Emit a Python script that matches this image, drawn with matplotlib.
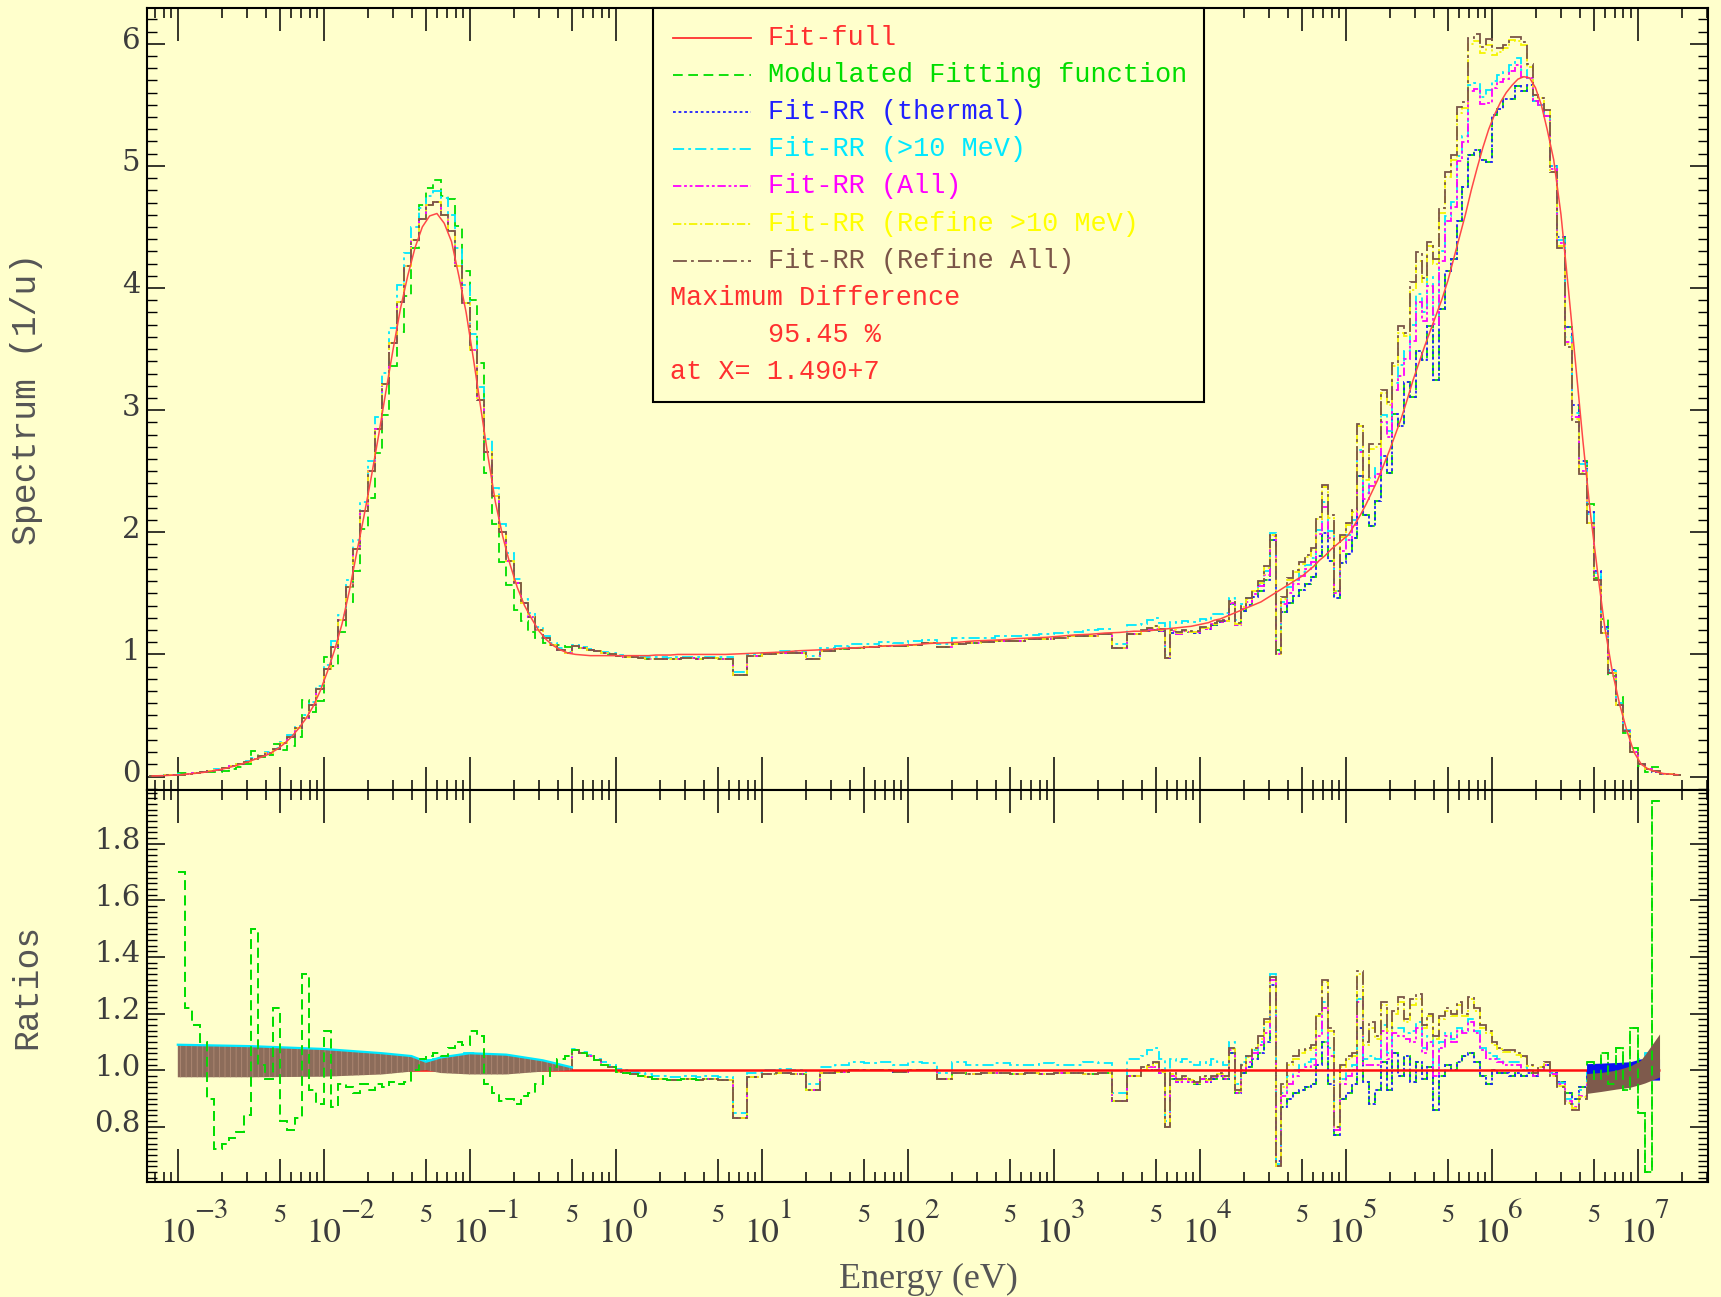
import numpy as np
import matplotlib
matplotlib.use("Agg")
import matplotlib.pyplot as plt
from matplotlib.ticker import FixedLocator, MultipleLocator, FormatStrFormatter, NullFormatter
from matplotlib.transforms import blended_transform_factory, ScaledTranslation
from matplotlib.patches import Rectangle
from matplotlib.lines import Line2D

plt.rcParams['lines.scale_dashes'] = False
plt.rcParams['mathtext.fontset'] = 'stix'
plt.rcParams['hatch.linewidth'] = 0.6

BG = '#FFFFCC'

# ---------------- energy group structure: (first log10 edge, last log10 edge, width)
group_regions = [(-3.2, 0.6, 0.05), (0.6, 3.6, 0.1), (3.6, 6.4, 0.04), (6.4, 7.3, 0.05)]

# ---------------- Fit-full spectrum (1/u) per group
fit_A = [0.005, 0.007, 0.009, 0.012, 0.016, 0.021, 0.027, 0.034, 0.043, 0.054,
         0.067, 0.082, 0.099, 0.118, 0.14, 0.16, 0.185, 0.22, 0.265, 0.32,
         0.39, 0.47, 0.57, 0.70, 0.86, 1.04, 1.25, 1.52, 1.83, 2.13,
         2.45, 2.79, 3.15, 3.50, 3.83, 4.10, 4.33, 4.50, 4.59, 4.61,
         4.53, 4.38, 4.10, 3.80, 3.42, 3.02, 2.62, 2.25, 1.97, 1.74,
         1.55, 1.40, 1.29, 1.19, 1.12, 1.07, 1.035, 1.01, 1.0, 0.995,
         0.99, 0.99, 0.99, 0.99, 0.99, 0.99, 0.99, 0.99, 0.99, 0.995,
         0.995, 0.995, 1.0, 1.0, 1.0, 1.0]
fit_B = [1.0, 1.0, 1.005, 1.01, 1.015, 1.02, 1.03, 1.035, 1.04, 1.05,
         1.055, 1.06, 1.07, 1.075, 1.08, 1.09, 1.095, 1.10, 1.11, 1.115,
         1.12, 1.13, 1.135, 1.14, 1.15, 1.16, 1.165, 1.175, 1.18, 1.19]
fit_C = [1.19, 1.195, 1.20, 1.205, 1.21, 1.215, 1.22, 1.225, 1.23, 1.24,
         1.25, 1.26, 1.28, 1.29, 1.31, 1.33, 1.35, 1.37, 1.39, 1.41,
         1.43, 1.46, 1.49, 1.52, 1.55, 1.58, 1.61, 1.64, 1.68, 1.72,
         1.77, 1.81, 1.86, 1.90, 1.94, 1.98, 2.06, 2.14, 2.23, 2.33,
         2.43, 2.55, 2.67, 2.80, 2.93, 3.08, 3.24, 3.38, 3.52, 3.65,
         3.78, 3.91, 4.06, 4.24, 4.42, 4.60, 4.80, 4.98, 5.15, 5.30,
         5.42, 5.52, 5.60, 5.66, 5.71, 5.73, 5.72, 5.64, 5.50, 5.30]
fit_D = [5.05, 4.60, 4.00, 3.38, 2.75, 2.17, 1.68, 1.22, 0.87, 0.60,
         0.38, 0.20, 0.10, 0.06, 0.04, 0.025, 0.02, 0.015]

# ---------------- ratios to Fit-full, thermal/epithermal groups
rr_A = [1.0, 1.0, 1.0, 1.0,
        1.03, 1.035, 1.03, 1.03, 1.035, 1.03, 1.03, 1.035, 1.03, 1.03,
        1.03, 1.03, 1.03, 1.025, 1.03, 1.025, 1.025, 1.025, 1.025, 1.025,
        1.025, 1.02, 1.025, 1.02, 1.02, 1.02, 1.02, 1.02, 1.02, 1.015,
        1.015, 1.02, 1.015, 1.015, 1.02, 1.02, 1.015, 1.02, 1.02, 1.02,
        1.02, 1.02, 1.015, 1.02, 1.015, 1.015, 1.02, 1.015, 1.015, 1.01,
        1.01, 1.01, 1.005, 1.005,
        1.07, 1.06, 1.05, 1.035, 1.02, 1.01, 0.995, 0.99, 0.985, 0.98,
        0.975, 0.97, 0.97, 0.965, 0.965, 0.97, 0.97, 0.965]
cyan_A = [1.0, 1.0, 1.0, 1.0,
          1.09, 1.09, 1.085, 1.085, 1.085, 1.08, 1.085, 1.08, 1.08, 1.08,
          1.08, 1.075, 1.075, 1.075, 1.07, 1.07, 1.07, 1.07, 1.065, 1.065, 1.065,
          1.065, 1.06, 1.06, 1.06, 1.055, 1.055, 1.055, 1.05, 1.05, 1.05, 1.045, 1.04,
          1.035, 1.035, 1.04, 1.045, 1.05, 1.055, 1.06, 1.06, 1.055, 1.055,
          1.05, 1.05, 1.05, 1.045, 1.04, 1.035, 1.03, 1.025, 1.02, 1.015, 1.01,
          1.075, 1.065, 1.055, 1.04, 1.03, 1.02, 1.005, 1.0, 0.995, 0.99,
          0.985, 0.98, 0.98, 0.975, 0.975, 0.98, 0.98, 0.975]
green_A = [1.0, 1.0, 1.0, 1.0,
           1.70, 1.22, 1.16, 1.10, 0.90, 0.72, 0.74, 0.76, 0.78, 0.84,
           1.50, 1.02, 0.97, 1.22, 0.82, 0.79, 0.83, 1.34, 0.93, 0.88, 1.14,
           0.87, 0.95, 0.94, 0.92, 0.95, 0.93, 0.95, 0.94, 0.96, 0.95, 0.96, 1.0,
           1.04, 1.05, 1.06, 1.05, 1.08, 1.10, 1.09, 1.14, 1.12, 0.95,
           0.92, 0.89, 0.90, 0.88, 0.91, 0.92, 0.95, 0.98, 1.01, 1.04, 1.05,
           1.07, 1.06, 1.05, 1.035, 1.02, 1.01, 0.995, 0.99, 0.985, 0.98,
           0.975, 0.97, 0.97, 0.965, 0.965, 0.97, 0.97, 0.965]
rr_B = [0.97, 0.965, 0.83, 0.975, 0.985, 0.99, 0.985, 0.93, 0.99, 0.995,
        1.0, 1.0, 1.0, 0.995, 1.0, 1.0, 0.97, 0.99, 0.985, 0.99,
        0.99, 0.985, 0.99, 0.985, 0.99, 0.99, 0.985, 0.99, 0.89, 0.98]
cyan_B = [0.98, 0.975, 0.85, 0.99, 1.0, 1.005, 1.0, 0.95, 1.01, 1.02,
          1.03, 1.025, 1.03, 1.02, 1.03, 1.025, 0.99, 1.03, 1.02, 1.02,
          1.025, 1.02, 1.02, 1.025, 1.02, 1.02, 1.03, 1.025, 0.92, 1.04]

# ---------------- ratios, fast groups
brown_C = [1.01, 1.02, 1.03, 1.0, 0.80, 0.99, 0.97, 0.98, 0.97, 0.96,
           0.98, 0.97, 0.98, 0.99, 0.98, 1.08, 0.93, 1.02, 1.05, 1.08,
           1.12, 1.18, 1.33, 0.66, 0.95, 1.03, 1.05, 1.07, 1.08, 1.09,
           1.20, 1.32, 1.15, 0.80, 1.02, 1.05, 1.06, 1.35, 1.10, 1.17,
           1.12, 1.24, 1.15, 1.21, 1.26, 1.18, 1.25, 1.27, 1.16, 1.20,
           1.12, 1.19, 1.22, 1.20, 1.24, 1.20, 1.26, 1.22, 1.16, 1.14,
           1.10, 1.08, 1.07, 1.07, 1.06, 1.05, 1.02, 0.99, 1.01, 1.03]
yellow_C = [1.0, 1.015, 1.025, 0.995, 0.80, 0.985, 0.965, 0.975, 0.965, 0.955,
            0.975, 0.965, 0.975, 0.985, 0.975, 1.075, 0.925, 1.015, 1.045, 1.075,
            1.11, 1.17, 1.33, 0.66, 0.94, 1.02, 1.04, 1.06, 1.07, 1.08,
            1.19, 1.31, 1.14, 0.80, 1.01, 1.04, 1.05, 1.34, 1.09, 1.15,
            1.11, 1.23, 1.14, 1.20, 1.24, 1.17, 1.23, 1.25, 1.15, 1.19,
            1.11, 1.18, 1.21, 1.19, 1.23, 1.19, 1.25, 1.21, 1.15, 1.13,
            1.09, 1.075, 1.065, 1.065, 1.055, 1.045, 1.015, 0.99, 1.01, 1.03]
magenta_C = [1.0, 1.01, 1.01, 0.99, 0.80, 0.98, 0.96, 0.97, 0.96, 0.955,
             0.97, 0.96, 0.975, 0.98, 0.97, 1.07, 0.92, 1.0, 1.03, 1.06,
             1.09, 1.13, 1.32, 0.66, 0.91, 0.95, 0.98, 1.0, 1.01, 1.02,
             1.12, 1.22, 1.05, 0.79, 0.95, 0.98, 1.0, 1.24, 1.02, 1.02,
             1.02, 1.14, 1.04, 1.13, 1.12, 1.11, 1.10, 1.15, 1.06, 1.10,
             0.98, 1.08, 1.12, 1.10, 1.14, 1.13, 1.17, 1.13, 1.07, 1.04,
             1.04, 1.03, 1.02, 1.02, 1.02, 1.0, 1.0, 0.98, 1.0, 1.02]
cyan_C = [1.05, 1.07, 1.08, 1.04, 0.82, 1.04, 1.03, 1.04, 1.03, 1.02,
          1.03, 1.02, 1.04, 1.03, 1.02, 1.10, 0.95, 1.03, 1.05, 1.07,
          1.10, 1.15, 1.34, 0.67, 0.92, 0.98, 1.0, 1.02, 1.03, 1.04,
          1.14, 1.24, 1.08, 0.80, 0.97, 1.0, 1.02, 1.25, 1.04, 1.05,
          1.04, 1.16, 1.06, 1.15, 1.15, 1.13, 1.14, 1.17, 1.08, 1.12,
          1.0, 1.10, 1.13, 1.11, 1.15, 1.14, 1.18, 1.14, 1.08, 1.06,
          1.05, 1.04, 1.03, 1.03, 1.03, 1.01, 1.0, 0.98, 1.0, 1.02]
blue_C = [1.0, 1.0, 1.0, 0.99, 0.80, 0.97, 0.96, 0.97, 0.96, 0.95,
          0.97, 0.96, 0.97, 0.98, 0.97, 1.06, 0.92, 0.99, 1.01, 1.04,
          1.06, 1.10, 1.30, 0.68, 0.87, 0.90, 0.92, 0.93, 0.94, 0.95,
          1.02, 1.10, 0.95, 0.77, 0.90, 0.92, 0.95, 1.15, 0.96, 0.88,
          0.93, 1.03, 0.93, 1.06, 0.98, 1.05, 0.96, 1.03, 0.97, 1.01,
          0.86, 0.98, 1.02, 1.00, 1.03, 1.05, 1.06, 1.03, 0.98, 0.95,
          1.00, 0.99, 0.99, 0.98, 0.99, 0.98, 0.99, 0.98, 1.00, 1.02]

# ---------------- ratios, high-energy tail groups
brown_D = [0.98, 0.94, 0.88, 0.86, 0.90, 0.955, 0.96, 0.965, 0.97, 0.975,
           0.985, 0.995, 1.01, 1.03, 1.05, 1.0, 1.0, 1.0]
yellow_D = [0.98, 0.945, 0.885, 0.865, 0.905, 0.955, 0.96, 0.965, 0.97, 0.975,
            0.985, 0.995, 1.01, 1.03, 1.05, 1.0, 1.0, 1.0]
magenta_D = [0.985, 0.95, 0.89, 0.87, 0.91, 0.955, 0.96, 0.965, 0.97, 0.975,
             0.985, 0.995, 1.01, 1.03, 1.05, 1.0, 1.0, 1.0]
cyan_D = [0.99, 0.955, 0.90, 0.88, 0.93, 0.99, 0.99, 0.99, 0.995, 1.0,
          1.01, 1.02, 1.04, 1.06, 1.08, 1.0, 1.0, 1.0]
blue_D = [0.99, 0.96, 0.92, 0.90, 0.94, 1.0, 1.0, 1.005, 1.005, 1.01,
          1.01, 1.015, 1.02, 1.02, 1.02, 1.0, 1.0, 1.0]
green_D = [0.99, 0.96, 0.92, 0.90, 0.94, 1.03, 0.97, 1.06, 0.95, 1.08,
           0.93, 1.15, 0.85, 0.64, 1.95, 1.0, 1.0, 1.0]

# ---------------- oscillation envelopes seen in the ratio panel
therm_band_logE = [-3.0, -2.5, -2.0, -1.6, -1.4, -1.3, -1.2, -1.0, -0.75, -0.5, -0.3]
therm_band_lo = [0.975, 0.975, 0.977, 0.985, 0.995, 1.0, 0.99, 0.985, 0.985, 0.995, 1.0]
therm_band_hi = [1.09, 1.085, 1.075, 1.06, 1.05, 1.03, 1.045, 1.06, 1.055, 1.035, 1.01]
tail_band_logE = [6.65, 6.75, 6.85, 6.95, 7.02, 7.05, 7.15]
blue_band_lo = [0.975, 0.975, 0.975, 0.975, 0.965, 0.965, 0.965]
blue_band_hi = [1.023, 1.025, 1.027, 1.03, 1.04, 1.04, 1.04]
brown_band_lo = [0.918, 0.925, 0.933, 0.94, 0.95, 0.955, 0.976]
brown_band_hi = [0.988, 0.992, 1.0, 1.015, 1.035, 1.055, 1.128]

decade_ticks = [1e-3, 1e-2, 1e-1, 1e0, 1e1, 1e2, 1e3, 1e4, 1e5, 1e6, 1e7]
decade_exponents = ['\u22123', '\u22122', '\u22121', '0', '1', '2', '3', '4', '5', '6', '7']
five_ticks = [5e-3, 5e-2, 5e-1, 5e0, 5e1, 5e2, 5e3, 5e4, 5e5, 5e6]
minor_ticks = [m * 10.0 ** k for k in range(-4, 8) for m in (2, 3, 4, 6, 7, 8, 9)]


def build_edges(regions):
    e = [regions[0][0]]
    for a, b, s in regions:
        n = int(round((b - a) / s))
        e += [round(a + s * (i + 1), 4) for i in range(n)]
    return np.array(e)


log_edges = build_edges(group_regions)
edges = 10.0 ** log_edges
centers = 10.0 ** (0.5 * (log_edges[:-1] + log_edges[1:]))
nb = len(log_edges) - 1

fit = np.array(fit_A + fit_B + fit_C + fit_D)
ratios = {
    'green': np.array(green_A + rr_B + blue_C + green_D),
    'blue': np.array(rr_A + rr_B + blue_C + blue_D),
    'cyan': np.array(cyan_A + cyan_B + cyan_C + cyan_D),
    'magenta': np.array(rr_A + rr_B + magenta_C + magenta_D),
    'yellow': np.array(rr_A + rr_B + yellow_C + yellow_D),
    'brown': np.array(rr_A + rr_B + brown_C + brown_D),
}
assert len(fit) == nb, (len(fit), nb)
for k, v in ratios.items():
    assert len(v) == nb, (k, len(v), nb)

RED = '#FF3030'
GREEN_LS = (0, (7, 4))
series = [
    ('Modulated Fitting function', 'green', '#00DD00', GREEN_LS),
    ('Fit-RR (thermal)', 'blue', '#2020FF', (0, (2, 2))),
    ('Fit-RR (>10 MeV)', 'cyan', '#00E8FF', (0, (8, 3, 2, 3))),
    ('Fit-RR (All)', 'magenta', '#FF00FF', (0, (6, 2, 2, 2, 2, 2))),
    ('Fit-RR (Refine >10 MeV)', 'yellow', '#F4F400', (0, (6, 2, 1.5, 2))),
    ('Fit-RR (Refine All)', 'brown', '#7A5548', (0, (10, 3, 2, 3))),
]

W, H = 1721, 1297
fig = plt.figure(figsize=(W / 100, H / 100), dpi=100, facecolor=BG)
L, R = 147.3, 1708.0
T1, M, B2 = 8.3, 790.0, 1182.0
ax1 = fig.add_axes([L / W, 1 - M / H, (R - L) / W, (M - T1) / H], facecolor=BG)
ax2 = fig.add_axes([L / W, 1 - B2 / H, (R - L) / W, (B2 - M) / H], facecolor=BG)

# ---- top panel: spectra
for label, key, col, ls in series:
    ax1.stairs(fit * ratios[key], edges, baseline=None, color=col, ls=ls, lw=1.3, zorder=2)
ax1.plot(centers, fit, color='#FF4848', lw=1.1, zorder=3)

# ---- bottom panel: ratios
lo = log_edges[:-1]
hi = log_edges[1:]
sel = np.where((lo >= -3.0 - 1e-9) & (hi <= 7.15 + 1e-9))[0]
i0, i1 = sel[0], sel[-1]
r_edges = edges[i0:i1 + 2]
g = ratios['green']
# green underneath where it coincides with the RR fits
ax2.stairs(g[i0:i1 + 1], r_edges, baseline=None, color='#00DD00', ls=GREEN_LS, lw=1.3, zorder=1.9)
for label, key, col, ls in series:
    if key == 'green':
        continue
    ax2.stairs(ratios[key][i0:i1 + 1], r_edges, baseline=None, color=col, ls=ls, lw=1.3, zorder=2)
ax2.hlines(1.0, 1e-3, 10 ** 7.15, color='#FF1010', lw=1.8, zorder=2.1)
ax2.fill_between(10.0 ** np.array(therm_band_logE), therm_band_lo, therm_band_hi,
                 facecolor='#8C6C5A', edgecolor='#B08A74', hatch='|||', lw=0, zorder=2.2)
ax2.plot(10.0 ** np.array(therm_band_logE), therm_band_hi, color='#00E8FF', lw=1.6, zorder=2.25)
ax2.fill_between(10.0 ** np.array(tail_band_logE), blue_band_lo, blue_band_hi,
                 color='#0A10F0', lw=0, zorder=2.5)
ax2.fill_between(10.0 ** np.array(tail_band_logE), brown_band_lo, brown_band_hi,
                 color='#7E5A4C', lw=0, zorder=2.6)
# green on top where it departs from the others (thermal groups and the >5 MeV tail)
nA = len(green_A)
ax2.stairs(g[i0:nA], edges[i0:nA + 1], baseline=None, color='#00DD00', ls=GREEN_LS, lw=1.3, zorder=2.7)
nD0 = nb - len(green_D)
ax2.stairs(g[nD0 + 5:i1 + 1], edges[nD0 + 5:i1 + 2], baseline=None, color='#00DD00',
           ls=GREEN_LS, lw=1.3, zorder=2.7)

# ---- axes formatting
xlo, xhi = 10 ** -3.209, 10 ** 7.482
for ax in (ax1, ax2):
    ax.set_xscale('log')
    ax.set_xlim(xlo, xhi)
    ax.xaxis.set_major_locator(FixedLocator(decade_ticks))
    ax.xaxis.set_minor_locator(FixedLocator(minor_ticks))
    ax.xaxis.set_minor_formatter(NullFormatter())
    ax.tick_params(axis='x', which='major', direction='in', length=24, width=1.1,
                   top=True, bottom=True, color='k', labelbottom=False)
    ax.tick_params(axis='x', which='minor', direction='in', length=7, width=1.1,
                   top=True, bottom=True, color='k')
    ax.tick_params(axis='y', which='major', direction='in', length=13, width=1.1,
                   left=True, right=True, labelsize=21, labelcolor='#3C3C3C', pad=5)
    ax.tick_params(axis='y', which='minor', direction='in', length=7.5, width=1.0,
                   left=True, right=True)
    for sp in ax.spines.values():
        sp.set_linewidth(1.5)
        sp.set_color('k')
    trans = blended_transform_factory(ax.transData, ax.transAxes)
    ax.plot(five_ticks, [0] * len(five_ticks), ls='none', marker=2, ms=16.5, mew=1.1,
            color='k', transform=trans, clip_on=False, zorder=5)
    ax.plot(five_ticks, [1] * len(five_ticks), ls='none', marker=3, ms=16.5, mew=1.1,
            color='k', transform=trans, clip_on=False, zorder=5)

ax1.set_ylim(-0.11, 6.29)
ax1.yaxis.set_major_locator(MultipleLocator(1))
ax1.yaxis.set_minor_locator(MultipleLocator(0.1))
ax1.yaxis.set_major_formatter(FormatStrFormatter('%d'))

ax2.set_ylim(0.605, 1.99)
ax2.yaxis.set_major_locator(MultipleLocator(0.2))
ax2.yaxis.set_minor_locator(MultipleLocator(0.02))
ax2.yaxis.set_major_formatter(FormatStrFormatter('%.1f'))

for ax in (ax1, ax2):
    for t in ax.get_yticklabels():
        t.set_fontfamily('DejaVu Serif')
        t.set_transform(t.get_transform() + ScaledTranslation(0, 4 / 72, fig.dpi_scale_trans))

# ---- energy tick labels: "10" centred on the tick, exponent up to the right, "5" between
LBL = '#3C3C3C'
trans2 = blended_transform_factory(ax2.transData, ax2.transAxes)
for x, e in zip(decade_ticks, decade_exponents):
    ax2.annotate('10', xy=(x, 0), xycoords=trans2, xytext=(0, -43), textcoords='offset points',
                 ha='center', va='baseline', fontsize=25, fontfamily='STIXGeneral', color=LBL)
    ax2.annotate(e, xy=(x, 0), xycoords=trans2, xytext=(12.0, -26), textcoords='offset points',
                 ha='left', va='baseline', fontsize=21, fontfamily='STIXGeneral', color=LBL)
for x in five_ticks:
    ax2.annotate('5', xy=(x, 0), xycoords=trans2, xytext=(0, -29), textcoords='offset points',
                 ha='center', va='baseline', fontsize=19, fontfamily='STIXGeneral', color=LBL)

# ---- axis titles
fig.text(27 / W, 1 - 399 / H, 'Spectrum (1/u)', rotation=90, ha='center', va='center',
         family='Liberation Mono', size=25, color='#555555')
fig.text(27 / W, 1 - 986 / H, 'Ratios', rotation=90, ha='center', va='center',
         family='Liberation Mono', size=25, color='#555555')
fig.text(928.6 / W, 1 - 1279 / H, 'Energy (eV)', ha='center', va='center',
         family='Liberation Serif', size=26, color='#555555')

# ---- legend box
ax1.add_patch(Rectangle((0.324, 0.4964), 0.353, 0.5036, transform=ax1.transAxes,
                        facecolor=BG, edgecolor='k', lw=1.5, zorder=6, clip_on=False))
entries = [('Fit-full', RED, '-')] + [(s[0], s[2], s[3]) for s in series]
text_cols = {'#F4F400': '#FFFF00'}
y0, dy = 0.9625, 0.0476
for i, (label, col, ls) in enumerate(entries):
    y = y0 - i * dy
    ax1.add_line(Line2D([0.3370, 0.3866], [y, y], transform=ax1.transAxes, color=col,
                        ls=ls, lw=1.3, zorder=7))
    ax1.text(0.3977, y, label, transform=ax1.transAxes, color=text_cols.get(col, col),
             family='Liberation Mono', size=19.4, va='center', ha='left', zorder=7)
ax1.text(0.3352, y0 - 7 * dy, 'Maximum Difference', transform=ax1.transAxes, color=RED,
         family='Liberation Mono', size=19.4, va='center', ha='left', zorder=7)
ax1.text(0.3977, y0 - 8 * dy, '95.45 %', transform=ax1.transAxes, color=RED,
         family='Liberation Mono', size=19.4, va='center', ha='left', zorder=7)
ax1.text(0.3352, y0 - 9 * dy, 'at X= 1.490+7', transform=ax1.transAxes, color=RED,
         family='Liberation Mono', size=19.4, va='center', ha='left', zorder=7)

fig.savefig('out.png', dpi=100, facecolor=BG)
